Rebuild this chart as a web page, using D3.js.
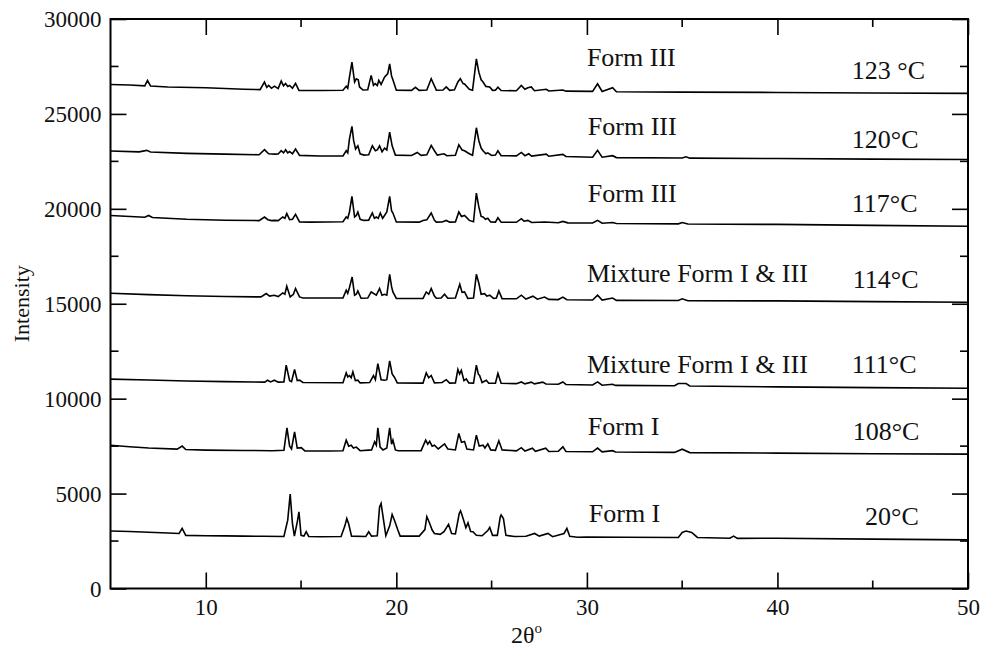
<!DOCTYPE html>
<html>
<head>
<meta charset="utf-8">
<script src="https://cdn.jsdelivr.net/npm/d3@7/dist/d3.min.js"></script>
<style>
  html, body { margin: 0; padding: 0; background: #fff; }
  svg text { font-family: "Liberation Serif", "Times New Roman", serif; fill: #111; }
</style>
</head>
<body>
<svg id="chart" width="984" height="647"></svg>
<script>
// Powder X-ray diffraction patterns recorded at increasing temperature.
// Each scan is a list of [2θ (deg), intensity (counts)] vertices, offset vertically.

const scan20 = [[5,3030],[6,3000],[7,2960],[8,2920],[8.6,2900],[8.76,3170],[8.95,2800],[10,2780],[11,2770],[12,2760],[13,2750],[14.1,2740],[14.3,3600],[14.43,4970],[14.55,3400],[14.65,2760],[14.8,3500],[14.89,4040],[15.0,2800],[15.15,2760],[15.27,2990],[15.4,2740],[16,2730],[17.1,2740],[17.3,3300],[17.4,3690],[17.5,3400],[17.65,2760],[18.4,2740],[18.55,2990],[18.7,2760],[19.0,2780],[19.12,4300],[19.2,4480],[19.3,3800],[19.45,2780],[19.65,3300],[19.78,3900],[19.9,3600],[20.08,3080],[20.2,2760],[21.2,2760],[21.5,3100],[21.6,3780],[21.72,3500],[21.88,3080],[22.0,2900],[22.3,2850],[22.5,2990],[22.74,3380],[22.9,2900],[23.1,2880],[23.3,3950],[23.37,4095],[23.5,3700],[23.65,3200],[23.76,3460],[23.9,3000],[24.02,2990],[24.2,2800],[24.5,2780],[24.8,3050],[24.9,3220],[25.05,2800],[25.3,2800],[25.45,3750],[25.5,3870],[25.62,3690],[25.75,2800],[26.2,2740],[26.8,2750],[27.26,2900],[27.5,2760],[27.96,2900],[28.2,2730],[28.8,2900],[28.95,3165],[29.1,2750],[29.5,2700],[30,2710],[32,2700],[34.8,2690],[35.0,2950],[35.2,3025],[35.5,2950],[35.8,2690],[37.5,2650],[37.7,2760],[37.9,2640],[40,2650],[45,2600],[50,2560]];

const scan108 = [[5,7550],[6,7470],[7,7400],[8.5,7340],[8.76,7500],[8.95,7320],[10,7290],[12,7270],[13.5,7260],[14.1,7280],[14.26,8460],[14.4,7500],[14.5,7350],[14.66,8250],[14.8,7400],[15.01,7420],[15.2,7250],[16.5,7240],[17.2,7260],[17.37,7815],[17.5,7500],[17.63,7550],[17.75,7400],[17.9,7450],[18.1,7260],[18.7,7300],[18.86,7726],[18.95,7550],[19.03,8460],[19.15,7450],[19.3,7300],[19.5,7400],[19.65,8460],[19.75,7600],[19.82,7815],[19.95,7300],[20.1,7260],[21.3,7260],[21.54,7815],[21.65,7600],[21.75,7750],[21.88,7500],[22.0,7550],[22.2,7350],[22.53,7620],[22.7,7350],[23.1,7300],[23.28,8165],[23.42,7700],[23.58,7750],[23.7,7350],[24.05,7300],[24.2,8080],[24.35,7500],[24.55,7552],[24.65,7400],[24.8,7620],[24.95,7300],[25.2,7280],[25.38,7780],[25.55,7300],[26.3,7250],[26.56,7420],[26.75,7240],[27.14,7390],[27.3,7230],[27.84,7390],[28.0,7220],[28.5,7230],[28.74,7463],[28.9,7220],[30.3,7200],[30.56,7395],[30.8,7200],[31.35,7260],[31.5,7190],[34.6,7170],[35.0,7340],[35.4,7160],[40,7130],[45,7100],[50,7080]];

const scan111 = [[5,11030],[7,10980],[9,10930],[11,10900],[12.5,10880],[13.1,10870],[13.24,10973],[13.4,10880],[13.6,10973],[13.8,10870],[14.1,10880],[14.22,11763],[14.4,10950],[14.5,10900],[14.66,11536],[14.8,10950],[14.92,10973],[15.1,10850],[17.2,10840],[17.37,11360],[17.45,11150],[17.54,11220],[17.63,11100],[17.72,11413],[17.85,10950],[17.98,10973],[18.1,10830],[18.6,10850],[18.8,11220],[18.9,11000],[19.03,11850],[19.2,11000],[19.38,10973],[19.5,11000],[19.65,11990],[19.78,11300],[19.9,11130],[20.05,10830],[21.4,10820],[21.57,11360],[21.7,11100],[21.83,11220],[22.0,10830],[22.4,10850],[22.62,11000],[22.8,10820],[23.1,10830],[23.23,11536],[23.32,11300],[23.41,11490],[23.55,10950],[23.67,11040],[23.8,10830],[24.05,10820],[24.2,11763],[24.3,11300],[24.37,11220],[24.5,10850],[24.72,10970],[24.85,10810],[25.2,10820],[25.33,11330],[25.5,10810],[26.3,10790],[26.56,10880],[26.75,10780],[27.08,10870],[27.25,10780],[27.68,10870],[27.85,10770],[28.5,10760],[28.74,10880],[28.9,10750],[30.3,10720],[30.56,10885],[30.8,10710],[31.35,10760],[31.5,10700],[34.6,10680],[34.8,10800],[35.2,10800],[35.4,10670],[40,10620],[45,10580],[50,10550]];

const scan114 = [[5,15550],[7,15480],[9,15420],[11,15380],[12.9,15360],[13.17,15535],[13.35,15400],[13.6,15450],[13.8,15380],[14.04,15570],[14.15,15500],[14.25,15920],[14.43,15360],[14.6,15500],[14.71,15800],[14.92,15360],[15.1,15300],[17.2,15300],[17.37,15710],[17.45,15550],[17.54,15850],[17.68,16410],[17.81,15450],[17.9,15500],[17.98,15675],[18.15,15290],[18.5,15300],[18.68,15620],[18.95,15450],[19.12,15800],[19.25,15450],[19.38,15500],[19.5,15450],[19.65,16550],[19.75,15900],[19.82,15620],[20.0,15280],[21.4,15280],[21.57,15620],[21.7,15500],[21.83,15800],[22.0,15400],[22.1,15290],[22.35,15300],[22.53,15500],[22.7,15290],[23.1,15300],[23.33,16025],[23.45,15600],[23.58,15620],[23.75,15280],[24.05,15300],[24.2,16550],[24.33,16080],[24.45,15500],[24.63,15530],[24.75,15400],[24.9,15450],[25.1,15280],[25.25,15300],[25.38,15675],[25.55,15270],[26.3,15260],[26.56,15450],[26.8,15250],[27.17,15400],[27.4,15240],[27.78,15350],[28.0,15230],[28.5,15220],[28.74,15350],[28.95,15210],[30.3,15200],[30.56,15450],[30.8,15190],[31.35,15300],[31.55,15180],[34.8,15170],[35.0,15260],[35.3,15160],[40,15150],[45,15110],[50,15080]];

const scan117 = [[5,19650],[6.8,19560],[7.0,19650],[7.2,19540],[9,19450],[11,19400],[12.8,19380],[13.08,19570],[13.26,19430],[13.45,19380],[13.6,19390],[13.8,19380],[14.04,19570],[14.15,19500],[14.25,19750],[14.4,19430],[14.55,19450],[14.71,19710],[14.92,19310],[15.5,19300],[17.2,19320],[17.37,19570],[17.45,19500],[17.54,19835],[17.67,20658],[17.81,19570],[17.9,19650],[17.98,19835],[18.1,19450],[18.3,19390],[18.55,19400],[18.74,19780],[18.85,19500],[18.95,19570],[19.05,19500],[19.16,19780],[19.28,19500],[19.38,19650],[19.5,19835],[19.65,20658],[19.75,19900],[19.82,19780],[20.0,19305],[21.2,19300],[21.4,19390],[21.6,19420],[21.83,19780],[22.0,19400],[22.1,19300],[22.4,19310],[22.62,19390],[22.8,19300],[23.1,19310],[23.28,19835],[23.42,19600],[23.58,19650],[23.83,19390],[24.05,19320],[24.2,20830],[24.33,20100],[24.45,19600],[24.55,19570],[24.68,19450],[24.8,19500],[24.95,19310],[25.2,19300],[25.33,19530],[25.5,19300],[26.3,19290],[26.56,19480],[26.7,19350],[26.9,19390],[27.1,19280],[27.78,19310],[28.5,19270],[28.74,19340],[29.0,19260],[30.3,19250],[30.56,19395],[30.8,19240],[31.35,19280],[31.55,19230],[34.8,19210],[35.0,19280],[35.3,19200],[40,19180],[45,19130],[50,19080]];

const scan120 = [[5,23050],[6.5,23000],[6.9,23080],[7.1,22990],[9,22920],[11,22880],[12.8,22850],[13.08,23115],[13.3,22900],[13.6,22880],[13.8,22890],[13.96,23060],[14.08,22950],[14.19,23115],[14.3,22950],[14.4,23020],[14.55,22900],[14.71,23150],[14.92,22815],[16,22780],[17.2,22790],[17.37,23060],[17.45,22950],[17.54,23690],[17.67,24340],[17.76,23590],[17.86,23150],[17.98,23320],[18.1,22900],[18.3,22830],[18.55,22850],[18.74,23320],[18.9,23060],[19.0,23100],[19.12,23320],[19.25,23000],[19.38,23200],[19.5,23100],[19.65,24040],[19.78,23320],[19.95,22830],[20.8,22810],[21.1,22970],[21.3,22820],[21.6,22850],[21.83,23340],[22.0,23060],[22.15,22830],[22.5,22900],[22.65,22800],[23.1,22820],[23.28,23375],[23.45,23100],[23.58,23060],[23.83,22900],[24.0,22820],[24.2,24270],[24.33,23590],[24.45,23200],[24.55,23060],[24.7,22900],[24.8,22950],[25.0,22810],[25.2,22830],[25.33,23060],[25.5,22800],[26.3,22790],[26.56,22970],[26.75,22800],[26.95,22900],[27.1,22780],[27.87,22880],[28.0,22770],[28.74,22870],[28.9,22760],[30.3,22720],[30.56,23080],[30.8,22720],[31.35,22800],[31.55,22700],[35.0,22680],[35.2,22740],[35.4,22670],[40,22650],[45,22620],[50,22600]];

const scan123 = [[5,26550],[6,26520],[6.8,26480],[6.94,26760],[7.1,26470],[8,26420],[10,26380],[12,26300],[12.85,26280],[13.08,26675],[13.2,26400],[13.3,26500],[13.45,26350],[13.6,26460],[13.8,26330],[13.96,26730],[14.08,26480],[14.19,26600],[14.3,26450],[14.4,26500],[14.55,26350],[14.71,26610],[14.89,26240],[16,26230],[17.2,26250],[17.37,26460],[17.45,26350],[17.54,26940],[17.67,27730],[17.81,26680],[17.9,26850],[18.0,26800],[18.07,26420],[18.25,26260],[18.5,26270],[18.68,27030],[18.8,26500],[18.89,26600],[19.0,26500],[19.08,26770],[19.2,26550],[19.38,26940],[19.55,27120],[19.65,27640],[19.75,27000],[19.82,26800],[20.0,26250],[20.8,26240],[21.0,26400],[21.2,26240],[21.6,26260],[21.83,26855],[22.0,26480],[22.1,26250],[22.45,26260],[22.62,26420],[22.8,26240],[23.05,26270],[23.23,26680],[23.36,26855],[23.5,26600],[23.58,26580],[23.83,26300],[24.0,26250],[24.2,27900],[24.33,27200],[24.45,26800],[24.55,26680],[24.7,26450],[24.9,26420],[25.05,26240],[25.2,26250],[25.33,26410],[25.5,26230],[26.3,26220],[26.56,26500],[26.75,26300],[26.9,26380],[27.08,26420],[27.25,26220],[27.87,26300],[28.0,26210],[28.74,26260],[28.9,26200],[30.3,26190],[30.56,26590],[30.8,26180],[31.35,26380],[31.55,26170],[35,26150],[40,26130],[45,26100],[50,26080]];

const scans = [scan20, scan108, scan111, scan114, scan117, scan120, scan123];

// Phase annotation and temperature for each scan (same order as scans)
const phaseLabels = ["Form I", "Form I", "Mixture Form I & III", "Mixture Form I & III", "Form III", "Form III", "Form III"];
const tempLabels = ["20°C", "108°C", "111°C", "114°C", "117°C", "120°C", "123 °C"];
// Anchor point (2θ, intensity) of each annotation's baseline start
const phaseAnchor = [[30.1, 3500], [30.05, 8080], [30.0, 11340], [30.0, 16130], [30.05, 20340], [30.05, 23870], [30.0, 27550]];
const tempAnchor = [[44.6, 3340], [43.95, 7815], [43.9, 11340], [43.95, 15815], [43.9, 19815], [43.9, 23185], [43.9, 26815]];

const xTicks = [10, 20, 30, 40, 50];
const yTicks = [0, 5000, 10000, 15000, 20000, 25000, 30000];
const xMinor = [15, 25, 35, 45];
const yMinor = [2500, 7500, 12500, 17500, 22500, 27500];

const svg = d3.select("#chart");
const plotLeft = 110.5, plotRight = 968, plotTop = 19, plotBottom = 588.5;

const x = d3.scaleLinear().domain([5, 50]).range([plotLeft, plotRight]);
const y = d3.scaleLinear().domain([0, 30000]).range([plotBottom, plotTop]);

// Patterns
const line = d3.line().x(d => x(d[0])).y(d => y(d[1]));
svg.append("g")
  .selectAll("path")
  .data(scans)
  .join("path")
  .attr("d", line)
  .attr("fill", "none")
  .attr("stroke", "#000")
  .attr("stroke-width", 1.6)
  .attr("stroke-linejoin", "miter");

// Frame with inward ticks on all four sides
const font = 23;
const majorLen = 16, minorLen = 8;

const bottomAxis = d3.axisBottom(x).tickValues(xTicks).tickSize(-majorLen).tickPadding(10).tickFormat(d3.format("d"));
const gB = svg.append("g").attr("transform", `translate(0,${plotBottom})`).call(bottomAxis);
gB.append("g").selectAll("line").data(xMinor).join("line")
  .attr("x1", d => x(d)).attr("x2", d => x(d)).attr("y1", 0).attr("y2", -minorLen);

const topAxis = d3.axisTop(x).tickValues(xTicks).tickSize(-majorLen).tickFormat("");
const gT = svg.append("g").attr("transform", `translate(0,${plotTop})`).call(topAxis);
gT.append("g").selectAll("line").data(xMinor).join("line")
  .attr("x1", d => x(d)).attr("x2", d => x(d)).attr("y1", 0).attr("y2", minorLen);

const leftAxis = d3.axisLeft(y).tickValues(yTicks).tickSize(-majorLen).tickPadding(9).tickFormat(d3.format("d"));
const gL = svg.append("g").attr("transform", `translate(${plotLeft},0)`).call(leftAxis);
gL.append("g").selectAll("line").data(yMinor).join("line")
  .attr("y1", d => y(d)).attr("y2", d => y(d)).attr("x1", 0).attr("x2", minorLen);

const rightAxis = d3.axisRight(y).tickValues(yTicks).tickSize(-majorLen).tickFormat("");
const gR = svg.append("g").attr("transform", `translate(${plotRight},0)`).call(rightAxis);
gR.append("g").selectAll("line").data(yMinor).join("line")
  .attr("y1", d => y(d)).attr("y2", d => y(d)).attr("x1", 0).attr("x2", -minorLen);

[gB, gT, gL, gR].forEach(g => {
  g.selectAll("line").attr("stroke", "#000").attr("stroke-width", 1.6);
  g.select(".domain").remove();
  g.selectAll("text").attr("font-size", font).attr("fill", "#111")
    .style("font-family", '"Liberation Serif", serif');
});
gL.selectAll(".tick text").attr("dy", "0.33em");

svg.append("rect")
  .attr("x", plotLeft).attr("y", plotTop)
  .attr("width", plotRight - plotLeft).attr("height", plotBottom - plotTop)
  .attr("fill", "none").attr("stroke", "#000").attr("stroke-width", 2);

// Axis titles
svg.append("text")
  .attr("transform", `translate(29,${(plotTop + plotBottom) / 2}) rotate(-90)`)
  .attr("text-anchor", "middle")
  .attr("font-size", 22)
  .text("Intensity");

const xt = svg.append("text")
  .attr("x", 511).attr("y", 643)
  .attr("font-size", 24);
xt.append("tspan").text("2θ");
xt.append("tspan").attr("font-size", 15).attr("dy", -10).text("o");

// Annotations
svg.append("g").selectAll("text").data(phaseLabels).join("text")
  .attr("x", (d, i) => x(phaseAnchor[i][0]))
  .attr("y", (d, i) => y(phaseAnchor[i][1]))
  .attr("font-size", 26)
  .text(d => d);

svg.append("g").selectAll("text").data(tempLabels).join("text")
  .attr("x", (d, i) => x(tempAnchor[i][0]))
  .attr("y", (d, i) => y(tempAnchor[i][1]))
  .attr("font-size", 26)
  .text(d => d);
</script>
</body>
</html>
